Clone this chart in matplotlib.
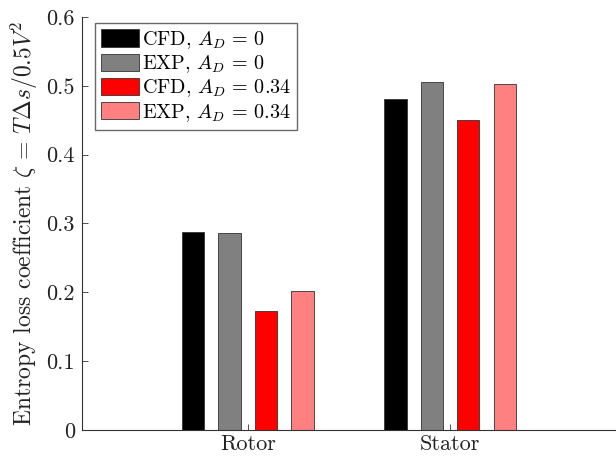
import matplotlib

matplotlib.use("Agg")
import matplotlib.pyplot as plt
import numpy as np

# values
components = ["Rotor", "Stator"]
series_labels = [
    r"CFD, $A_D\,=\,0$",
    r"EXP, $A_D\,=\,0$",
    r"CFD, $A_D\,=\,0.34$",
    r"EXP, $A_D\,=\,0.34$",
]
cfd_ad0 = [0.288, 0.481]
exp_ad0 = [0.286, 0.506]
cfd_ad034 = [0.173, 0.451]
exp_ad034 = [0.202, 0.502]
series_colors = ["#000000", "#808080", "#ff0000", "#ff8080"]
yticks = [0, 0.1, 0.2, 0.3, 0.4, 0.5, 0.6]

plt.rcParams["font.family"] = ["cmr10", "DejaVu Serif"]
plt.rcParams["mathtext.fontset"] = "cm"
plt.rcParams["axes.formatter.use_mathtext"] = True

fig = plt.figure(figsize=(6.16, 4.57), dpi=100)
ax = fig.add_axes([0.133, 0.059, 0.867, 0.904])

x = np.arange(1, len(components) + 1)
width = 0.11
offsets = np.array([-1.5, -0.5, 0.5, 1.5]) * 0.18
series = [cfd_ad0, exp_ad0, cfd_ad034, exp_ad034]
for vals, off, col, lab in zip(series, offsets, series_colors, series_labels):
    ax.bar(x + off, vals, width, color=col, edgecolor="#333333",
           linewidth=0.6, label=lab)

ax.set_xlim(0.18, 2.82)
ax.set_ylim(0, 0.6)
ax.set_xticks(x)
ax.set_xticklabels(components, fontsize=16)
ax.set_yticks(yticks)
ax.set_yticklabels([f"{t:g}" for t in yticks], fontsize=16)
ax.tick_params(direction="in", length=4, width=0.6, colors="#333333",
               labelcolor="#222222", pad=5)
ax.tick_params(axis="x", pad=3)
ax.spines["top"].set_visible(False)
ax.spines["right"].set_visible(False)
for s in ["left", "bottom"]:
    ax.spines[s].set_linewidth(0.8)
    ax.spines[s].set_color("#333333")

ax.set_ylabel(r"Entropy loss coefficient $\zeta\,=\,T\Delta s / 0.5V^2$",
              fontsize=17, color="#222222", labelpad=5)

leg = ax.legend(loc="upper left", bbox_to_anchor=(0.025, 0.985), fontsize=14.5,
                fancybox=False, handlelength=1.85, handleheight=0.95,
                handletextpad=0.15, labelspacing=0.12, borderpad=0.3,
                borderaxespad=0.0)
leg.get_frame().set_edgecolor("#444444")
leg.get_frame().set_linewidth(1.0)

fig.savefig("out.png", dpi=100)
